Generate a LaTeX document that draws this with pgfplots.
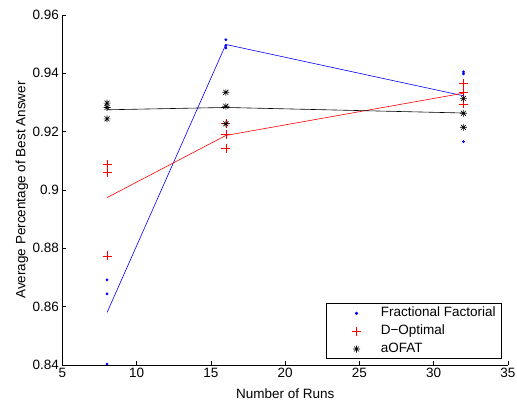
\documentclass[border=0pt]{standalone}
\usepackage{fontspec}
\setmainfont{Liberation Sans}
\usepackage{pgfplots}
\pgfplotsset{compat=1.18}

% eight-spoke asterisk
\pgfdeclareplotmark{star8}{%
  \pgfpathmoveto{\pgfqpoint{-\pgfplotmarksize}{0pt}}%
  \pgfpathlineto{\pgfqpoint{\pgfplotmarksize}{0pt}}%
  \pgfpathmoveto{\pgfqpoint{0pt}{-\pgfplotmarksize}}%
  \pgfpathlineto{\pgfqpoint{0pt}{\pgfplotmarksize}}%
  \pgfpathmoveto{\pgfqpoint{-0.7071\pgfplotmarksize}{-0.7071\pgfplotmarksize}}%
  \pgfpathlineto{\pgfqpoint{0.7071\pgfplotmarksize}{0.7071\pgfplotmarksize}}%
  \pgfpathmoveto{\pgfqpoint{-0.7071\pgfplotmarksize}{0.7071\pgfplotmarksize}}%
  \pgfpathlineto{\pgfqpoint{0.7071\pgfplotmarksize}{-0.7071\pgfplotmarksize}}%
  \pgfusepathqstroke}

\newcommand{\chartfont}{\fontsize{13.5}{16}\selectfont}

\tikzset{
  dotstyle/.style={blue, mark=*, mark size=1.2pt},
  plusstyle/.style={red, mark=+, mark size=4.5pt, mark options={line width=0.6pt}},
  starstyle/.style={black, mark=star8, mark size=3.5pt, mark options={line width=0.6pt}},
}

\begin{document}
\begin{tikzpicture}
\useasboundingbox (-62.5pt,-40pt) rectangle (454.5pt,365pt);
\begin{axis}[
  at={(0pt,0pt)}, anchor=south west,
  scale only axis, width=445.5pt, height=350pt,
  xmin=5, xmax=35, ymin=0.84, ymax=0.96,
  axis x line*=bottom, axis y line*=left,
  axis line style={-, black, line width=0.7pt},
  tick align=inside, major tick length=4pt,
  tick style={black, line width=0.6pt},
  xtick={5,10,15,20,25,30,35},
  xticklabels={5,10,15,20,25,30,35},
  ytick={0.84,0.86,0.88,0.9,0.92,0.94,0.96},
  yticklabels={0.84,0.86,0.88,0.9,0.92,0.94,0.96},
  /pgf/number format/assume math mode=true,
  tick label style={font=\chartfont},
  xlabel={Number of Runs},
  ylabel={Average Percentage of Best Answer},
  every axis x label/.style={at={(axis description cs:0.5,0)}, yshift=-29pt,
    anchor=center, font=\chartfont},
  every axis y label/.style={at={(axis description cs:0,0.5)}, xshift=-40.5pt,
    rotate=90, anchor=center, font=\chartfont},
  legend style={at={(axis description cs:0.9865,0.017)}, anchor=south east,
    draw=black, line width=0.7pt, font=\chartfont,
    inner xsep=1.5pt, inner ysep=0.8pt, row sep=0pt,
    nodes={text height=9.8pt, text depth=3.5pt, inner ysep=2.25pt, inner xsep=4.5pt}},
  legend cell align=left,
]
\addplot[only marks, dotstyle,
  legend image code/.code={%
    \path[draw=none,fill=none] (0pt,-4pt) rectangle (48pt,4pt);
    \draw[only marks, dotstyle] plot coordinates {(28.2pt,0pt)};}]
  coordinates {
  (8,0.8692) (8,0.8644) (8,0.8403)
  (16,0.9515) (16,0.9495) (16,0.9487)
  (32,0.9398) (32,0.9405) (32,0.9166)};
\addlegendentry{Fractional Factorial}
\addplot[only marks, plusstyle,
  legend image code/.code={%
    \path[draw=none,fill=none] (0pt,-4pt) rectangle (48pt,4pt);
    \draw[only marks, plusstyle] plot coordinates {(28.2pt,0pt)};}]
  coordinates {
  (8,0.9088) (8,0.9061) (8,0.8774)
  (16,0.9227) (16,0.9192) (16,0.9143)
  (32,0.9366) (32,0.9335) (32,0.9295)};
\addlegendentry{D−Optimal}
\addplot[only marks, starstyle,
  legend image code/.code={%
    \path[draw=none,fill=none] (0pt,-4pt) rectangle (48pt,4pt);
    \draw[only marks, starstyle] plot coordinates {(28.2pt,0pt)};}]
  coordinates {
  (8,0.9298) (8,0.9283) (8,0.9244)
  (16,0.9335) (16,0.9287) (16,0.9227)
  (32,0.9314) (32,0.9263) (32,0.9215)};
\addlegendentry{aOFAT}

% averages at each run count
\addplot[blue, line width=0.6pt, forget plot] coordinates {(8,0.8580) (16,0.9499) (32,0.9323)};
\addplot[red, line width=0.6pt, forget plot] coordinates {(8,0.8974) (16,0.9187) (32,0.9332)};
\addplot[black, line width=0.6pt, forget plot] coordinates {(8,0.9275) (16,0.9283) (32,0.9264)};
\end{axis}
\end{tikzpicture}
\end{document}
